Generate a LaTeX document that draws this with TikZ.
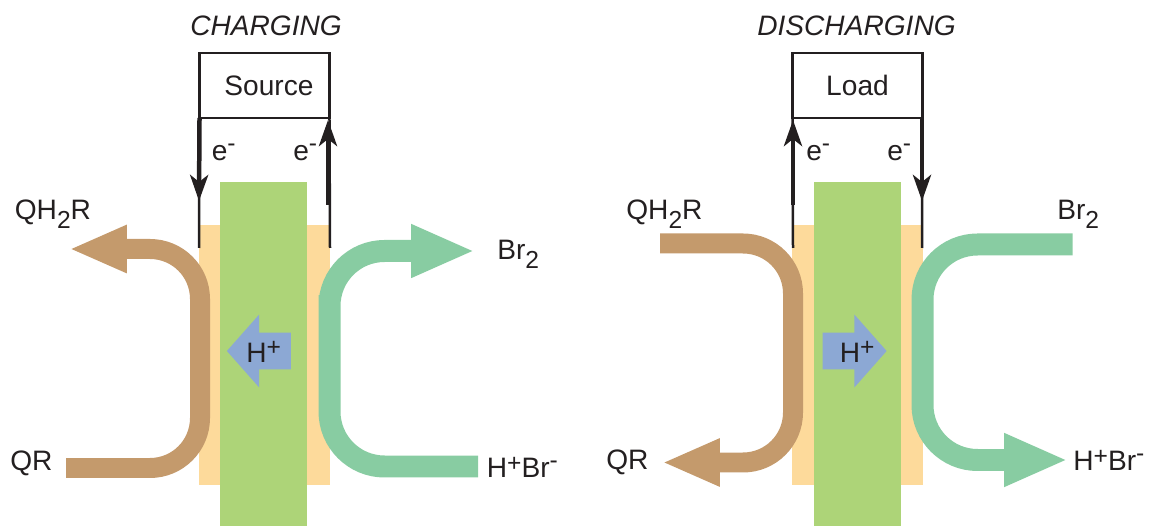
\documentclass[tikz,border=0pt]{standalone}
\usepackage{fontspec}
\setmainfont{Liberation Sans}
\usepackage{xcolor}
\usepackage{tikz}
\usetikzlibrary{shapes,arrows.meta}
\definecolor{inkblack}{HTML}{231F20}
\definecolor{peach}{HTML}{FDDA9B}
\definecolor{membrane}{HTML}{ADD478}
\definecolor{quinone}{HTML}{C49A6C}
\definecolor{bromine}{HTML}{88CCA2}
\definecolor{proton}{HTML}{8CA8D4}
\newcommand{\lowtext}[1]{\raisebox{-.3em}{\fontsize{14}{14}\selectfont #1}}
\newcommand{\hightext}[1]{\raisebox{.24em}{\fontsize{14}{14}\selectfont #1}}
\newcommand{\hyptext}{\raisebox{.34em}{\fontsize{14}{14}\selectfont -}}
\newcommand{\shaftsize}{\rule[-.36cm]{0pt}{.72cm}}
\tikzstyle{label} = [anchor=base west, inner sep=0pt, text=inkblack]
\tikzstyle{title} = [inner sep=0pt, text=inkblack, font=\fontsize{16}{19}\selectfont\itshape]
\tikzstyle{block} = [rectangle, draw=inkblack, line width=.05cm, text=inkblack,
    minimum width=2.6cm, minimum height=1.3cm, inner sep=0pt, outer sep=0pt]
\tikzstyle{electrode} = [rectangle, fill=peach, minimum width=2.62cm, minimum height=5.2cm, inner sep=0pt]
\tikzstyle{separator} = [rectangle, fill=membrane, minimum height=6.88cm, inner sep=0pt]
\tikzstyle{hplus} = [single arrow, fill=proton, inner sep=0pt,
    minimum height=1.28cm, minimum width=1.44cm, single arrow head extend=.36cm,
    single arrow tip angle=97, single arrow head indent=0pt]
\tikzstyle{wire} = [draw=inkblack, line width=.05cm]
\tikzstyle{line} = [draw=inkblack, line width=.09cm,
    -{Stealth[length=.52cm, width=.36cm, inset=.14cm]}]
\tikzstyle{quinoneband} = [draw=quinone, line width=.4cm, rounded corners=1cm]
\tikzstyle{brominehead} = [-{Triangle[length=1.28cm, width=.98cm]}]
\tikzstyle{quinonehead} = [-{Triangle[length=1.16cm, width=.88cm]}]
\tikzstyle{bromineband} = [draw=bromine, line width=.44cm, rounded corners=1.1cm]
\begin{document}
\begin{tikzpicture}[x=.02cm, y=-.02cm, font=\fontsize{16}{19}\selectfont]
  \useasboundingbox (0,0) rectangle (1149,526);
  % Place nodes
  \node [title] (charging) at (266,26) {CHARGING};
  \node [block] (source) at (264.5,85.5) {\hspace*{.18cm}Source};
  \node [electrode] (cellone) at (264.5,355) {};
  \node [separator, minimum width=1.74cm] (sepone) at (263.5,354) {};
  \node [hplus, shape border rotate=180] (hone) at (267,351) {\shaftsize};
  \node [label] (honetext) at (246,362.5) {H\hightext{+}};
  \node [label] (qhone) at (14.5,220) {QH\lowtext{2}R};
  \node [label] (qrone) at (10,471) {QR};
  \node [label] (brone) at (497,260) {Br\lowtext{2}};
  \node [label] (hbrone) at (486.5,478) {H\hightext{+}Br\hyptext};
  \node [label] (eoneleft) at (211.5,161) {e\hyptext};
  \node [label] (eoneright) at (293,161) {e\hyptext};

  \node [title] (discharging) at (856.5,26) {DISCHARGING};
  \node [block] (load) at (857.5,85.5) {Load};
  \node [electrode] (celltwo) at (857.5,355) {};
  \node [separator, minimum width=1.74cm] (septwo) at (857.5,354) {};
  \node [hplus] (htwo) at (846.5,351) {\shaftsize};
  \node [label] (htwotext) at (839.5,362.5) {H\hightext{+}};
  \node [label] (qhtwo) at (626,220) {QH\lowtext{2}R};
  \node [label] (qrtwo) at (606,470) {QR};
  \node [label] (brtwo) at (1057,220) {Br\lowtext{2}};
  \node [label] (hbrtwo) at (1073,471) {H\hightext{+}Br\hyptext};
  \node [label] (etwoleft) at (806,161) {e\hyptext};
  \node [label] (etworight) at (887,161) {e\hyptext};

  % Free ends of the wires and bands
  \coordinate (wireoneleft) at (199,248);
  \coordinate (wireoneright) at (330,248);
  \coordinate (wiretwoleft) at (793,248);
  \coordinate (wiretworight) at (922,248);
  \coordinate (qrinone) at (66,468);
  \coordinate (qrturnone) at (200,350);
  \coordinate (qhoutone) at (69,249);
  \coordinate (hbrinone) at (478,466.5);
  \coordinate (hbrturnone) at (329.5,350);
  \coordinate (broutone) at (475,251);
  \coordinate (qhintwo) at (660,243.5);
  \coordinate (qhturntwo) at (793,350);
  \coordinate (qrouttwo) at (662,462.5);
  \coordinate (brintwo) at (1072.5,244.5);
  \coordinate (brturntwo) at (922.5,350);
  \coordinate (hbrouttwo) at (1068,460);

  % Draw edges
  \path [wire] (source.south west) -- (wireoneleft);
  \path [wire] (source.south east) -- (wireoneright);
  \path [line] (source.south west) -- (199,201);
  \path [line] (328,205) -- (328,120);
  \path [wire] (load.south west) -- (wiretwoleft);
  \path [wire] (load.south east) -- (wiretworight);
  \path [line] (793,205) -- (793,120);
  \path [line] (922,118) -- (922,201);

  \path [quinoneband, quinonehead] (qrinone) -| (qrturnone) |- (qhoutone);
  \path [bromineband, brominehead] (hbrinone) -| (hbrturnone) |- (broutone);
  \path [quinoneband, quinonehead] (qhintwo) -| (qhturntwo) |- (qrouttwo);
  \path [bromineband, brominehead] (brintwo) -| (brturntwo) |- (hbrouttwo);
\end{tikzpicture}
\end{document}
